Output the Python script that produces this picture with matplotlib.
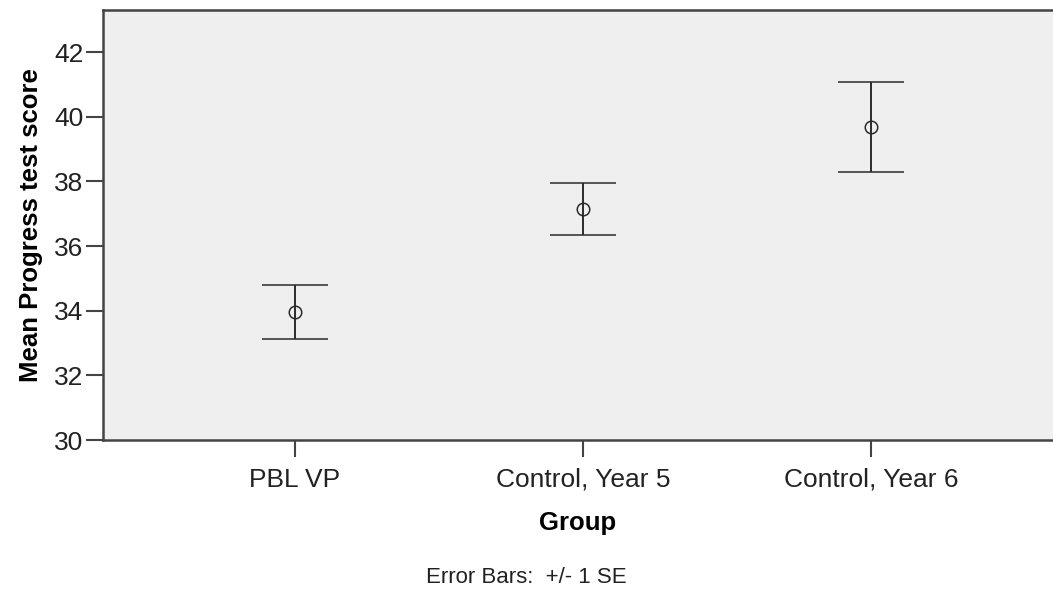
import matplotlib.pyplot as plt

groups = ['PBL VP', 'Control, Year 5', 'Control, Year 6']
means = [33.97, 37.14, 39.68]
se = [0.83, 0.80, 1.38]

plt.rcParams['font.family'] = ['Liberation Sans', 'DejaVu Sans']

fig = plt.figure(figsize=(10.53, 5.90), dpi=100)
ax = fig.add_axes([0.0978, 0.2542, 0.9022, 0.7288])
ax.set_facecolor('#efefef')

x = list(range(len(groups)))
ax.errorbar(x, means, yerr=se, fmt='o', color='#2b2b2b', mfc='none',
            mec='#2b2b2b', ms=9, mew=1.1, elinewidth=1.4, capsize=23.5,
            capthick=1.4)

# Axis limits and ticks
ax.set_xlim(-0.667, 2.632)
ax.set_ylim(30, 43.3)
ax.set_yticks([30, 32, 34, 36, 38, 40, 42])
ax.set_xticks(x)
ax.set_xticklabels(groups)
ax.tick_params(axis='both', length=12, width=1.5, color='#444444',
               labelsize=19, labelcolor='#222222')
ax.tick_params(axis='x', pad=8)
ax.tick_params(axis='y', pad=2)

for side in ['left', 'bottom', 'top']:
    ax.spines[side].set_color('#444444')
    ax.spines[side].set_linewidth(1.8)
ax.spines['right'].set_visible(False)

ax.set_xlabel('Group', fontsize=18.5, fontweight='bold', labelpad=14)
ax.set_ylabel('Mean Progress test score', fontsize=18.5, fontweight='bold',
              labelpad=8)

fig.text(0.5, 0.022, 'Error Bars:  +/- 1 SE', ha='center', va='center',
         fontsize=16, color='#222222')

fig.savefig('out.png', dpi=100)
